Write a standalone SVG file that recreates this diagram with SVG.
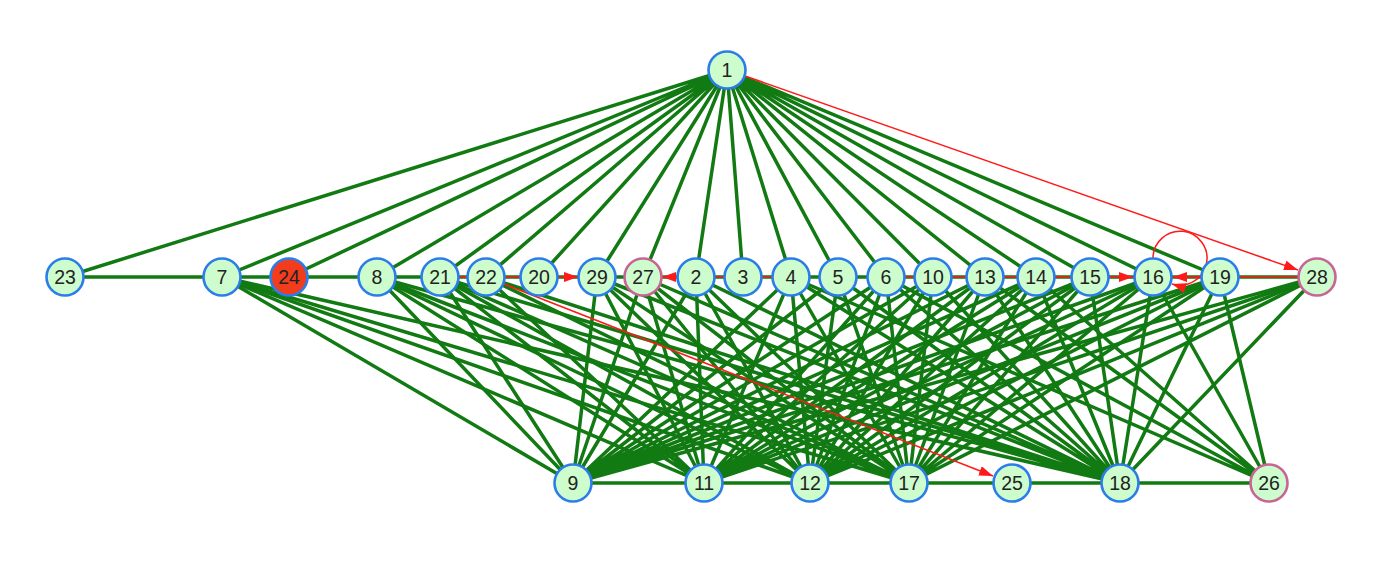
<svg xmlns="http://www.w3.org/2000/svg" width="1380" height="564" viewBox="0 0 1380 564">
<style>
.e{fill:none;stroke:#127a12;stroke-width:3.5}
.r{fill:none;stroke:#ff1a1a;stroke-width:1.5}
.n circle{fill:#cdfccd;stroke:#2b7de9;stroke-width:2.6}
.n.p circle{stroke:#c86496}
.n.h circle{fill:#f23c1e}
.n text{font-family:"Liberation Sans",Arial,sans-serif;font-size:19.5px;fill:#222;text-anchor:middle}
</style>
<defs>
<marker id="ar" markerWidth="15" markerHeight="11" refX="14" refY="5" orient="auto" markerUnits="userSpaceOnUse">
<path d="M0,0L14,5L0,10z" fill="#ff1a1a"/>
</marker>
</defs>
<rect width="1380" height="564" fill="#fff"/>
<g id="connectors">
<path class="e" d="M65 277L1317 277M573 483L1269 483"/>
<path class="e" d="M727 70L65 277M727 70L222 277M727 70L289 277M727 70L377 277M727 70L440 277M727 70L486 277M727 70L539 277M727 70L597 277M727 70L643 277M727 70L696 277M727 70L743 277M727 70L791 277M727 70L838 277M727 70L886 277M727 70L933 277M727 70L985 277M727 70L1036 277M727 70L1090 277M727 70L1153 277M727 70L1220 277"/>
<path class="e" d="M573 483L222 277M573 483L377 277M573 483L440 277M573 483L597 277M573 483L643 277M573 483L696 277M573 483L791 277M573 483L838 277M573 483L886 277M573 483L933 277M573 483L985 277M573 483L1036 277M573 483L1090 277M573 483L1153 277M573 483L1220 277M573 483L1317 277"/>
<path class="e" d="M704 483L222 277M704 483L377 277M704 483L440 277M704 483L486 277M704 483L597 277M704 483L643 277M704 483L696 277M704 483L791 277M704 483L886 277M704 483L933 277M704 483L985 277M704 483L1036 277M704 483L1090 277M704 483L1153 277M704 483L1220 277M704 483L1317 277"/>
<path class="e" d="M810 483L222 277M810 483L377 277M810 483L440 277M810 483L597 277M810 483L643 277M810 483L696 277M810 483L791 277M810 483L838 277M810 483L886 277M810 483L933 277M810 483L985 277M810 483L1036 277M810 483L1090 277M810 483L1153 277M810 483L1220 277M810 483L1317 277"/>
<path class="e" d="M909 483L222 277M909 483L377 277M909 483L440 277M909 483L486 277M909 483L597 277M909 483L643 277M909 483L696 277M909 483L791 277M909 483L838 277M909 483L886 277M909 483L933 277M909 483L985 277M909 483L1036 277M909 483L1090 277M909 483L1153 277M909 483L1220 277M909 483L1317 277"/>
<path class="e" d="M1120 483L222 277M1120 483L377 277M1120 483L440 277M1120 483L486 277M1120 483L597 277M1120 483L643 277M1120 483L696 277M1120 483L791 277M1120 483L838 277M1120 483L886 277M1120 483L933 277M1120 483L985 277M1120 483L1036 277M1120 483L1090 277M1120 483L1153 277M1120 483L1220 277M1120 483L1317 277"/>
<path class="e" d="M1269 483L791 277M1269 483L886 277M1269 483L985 277M1269 483L1036 277M1269 483L1153 277M1269 483L1220 277"/>
<path class="r" d="M459 277L578 277" marker-end="url(#ar)"/>
<path class="r" d="M772 277L662 277" marker-end="url(#ar)"/>
<path class="r" d="M905 277L1133 277" marker-end="url(#ar)"/>
<path class="r" d="M1297 277L1173 277" marker-end="url(#ar)"/>
<path class="r" d="M745 76L1298 270" marker-end="url(#ar)"/>
<path class="r" d="M504 284L993 476" marker-end="url(#ar)"/>
<path class="r" d="M1153 258A27 27 0 1 1 1172 284" marker-end="url(#ar)"/>
</g>
<g id="node-1" class="n"><circle cx="727" cy="70" r="18.5"/><text x="727" y="77">1</text></g>
<g id="node-23" class="n"><circle cx="65" cy="277" r="18.5"/><text x="65" y="284">23</text></g>
<g id="node-7" class="n"><circle cx="222" cy="277" r="18.5"/><text x="222" y="284">7</text></g>
<g id="node-24" class="n h"><circle cx="289" cy="277" r="18.5"/><text x="289" y="284">24</text></g>
<g id="node-8" class="n"><circle cx="377" cy="277" r="18.5"/><text x="377" y="284">8</text></g>
<g id="node-21" class="n"><circle cx="440" cy="277" r="18.5"/><text x="440" y="284">21</text></g>
<g id="node-22" class="n"><circle cx="486" cy="277" r="18.5"/><text x="486" y="284">22</text></g>
<g id="node-20" class="n"><circle cx="539" cy="277" r="18.5"/><text x="539" y="284">20</text></g>
<g id="node-29" class="n"><circle cx="597" cy="277" r="18.5"/><text x="597" y="284">29</text></g>
<g id="node-27" class="n p"><circle cx="643" cy="277" r="18.5"/><text x="643" y="284">27</text></g>
<g id="node-2" class="n"><circle cx="696" cy="277" r="18.5"/><text x="696" y="284">2</text></g>
<g id="node-3" class="n"><circle cx="743" cy="277" r="18.5"/><text x="743" y="284">3</text></g>
<g id="node-4" class="n"><circle cx="791" cy="277" r="18.5"/><text x="791" y="284">4</text></g>
<g id="node-5" class="n"><circle cx="838" cy="277" r="18.5"/><text x="838" y="284">5</text></g>
<g id="node-6" class="n"><circle cx="886" cy="277" r="18.5"/><text x="886" y="284">6</text></g>
<g id="node-10" class="n"><circle cx="933" cy="277" r="18.5"/><text x="933" y="284">10</text></g>
<g id="node-13" class="n"><circle cx="985" cy="277" r="18.5"/><text x="985" y="284">13</text></g>
<g id="node-14" class="n"><circle cx="1036" cy="277" r="18.5"/><text x="1036" y="284">14</text></g>
<g id="node-15" class="n"><circle cx="1090" cy="277" r="18.5"/><text x="1090" y="284">15</text></g>
<g id="node-16" class="n"><circle cx="1153" cy="277" r="18.5"/><text x="1153" y="284">16</text></g>
<g id="node-19" class="n"><circle cx="1220" cy="277" r="18.5"/><text x="1220" y="284">19</text></g>
<g id="node-28" class="n p"><circle cx="1317" cy="277" r="18.5"/><text x="1317" y="284">28</text></g>
<g id="node-9" class="n"><circle cx="573" cy="483" r="18.5"/><text x="573" y="490">9</text></g>
<g id="node-11" class="n"><circle cx="704" cy="483" r="18.5"/><text x="704" y="490">11</text></g>
<g id="node-12" class="n"><circle cx="810" cy="483" r="18.5"/><text x="810" y="490">12</text></g>
<g id="node-17" class="n"><circle cx="909" cy="483" r="18.5"/><text x="909" y="490">17</text></g>
<g id="node-25" class="n"><circle cx="1012" cy="483" r="18.5"/><text x="1012" y="490">25</text></g>
<g id="node-18" class="n"><circle cx="1120" cy="483" r="18.5"/><text x="1120" y="490">18</text></g>
<g id="node-26" class="n p"><circle cx="1269" cy="483" r="18.5"/><text x="1269" y="490">26</text></g>
</svg>
